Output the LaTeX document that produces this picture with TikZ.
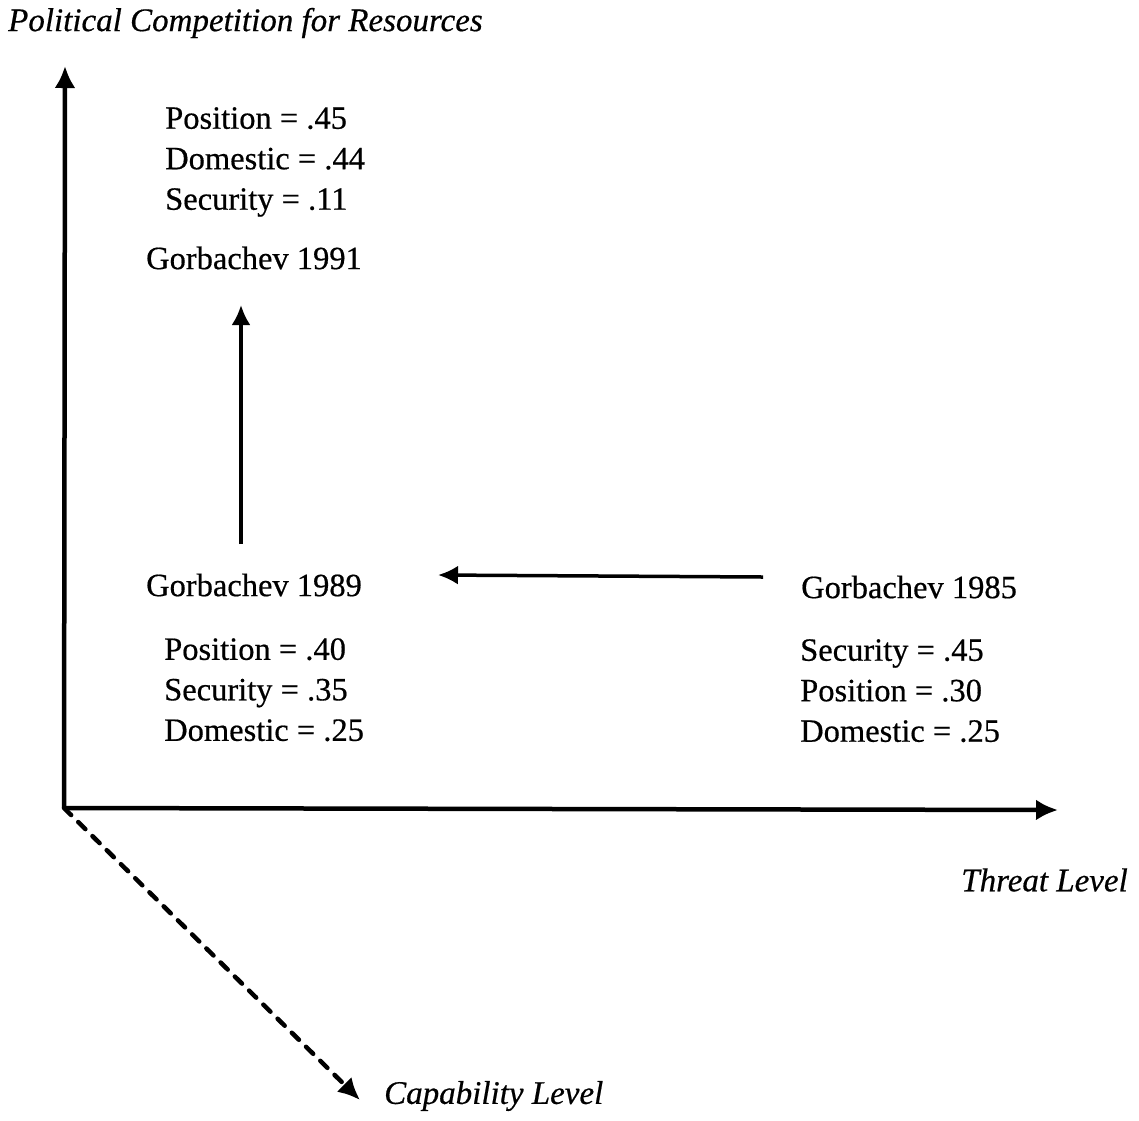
\documentclass[tikz,border=0pt]{standalone}
\usepackage{fontspec}
\setmainfont{Liberation Serif}[FakeBold=0.5]
\usetikzlibrary{arrows.meta}
\begin{document}
\begin{tikzpicture}[x=1pt,y=-1pt,
  lbl/.style={inner sep=0pt, font=\fontsize{32.5}{41}\selectfont},
  ilbl/.style={inner sep=0pt, font=\fontsize{33}{40}\selectfont\itshape},
  blk/.style={inner sep=0pt, align=left, font=\fontsize{32.5}{40.5}\selectfont},
  axis/.style={line width=4.5pt, -{Latex[length=22pt,width=21pt]}},
  move/.style={line width=3.5pt, -{Latex[length=20pt,width=19pt]}},
  zaxis/.style={line width=4.5pt, dash pattern=on 10pt off 10pt, line cap=round, -{Latex[length=22pt,width=21pt]}}]
\useasboundingbox (0,0) rectangle (1139,1120);
% axes
\coordinate (origin) at (64,808);
\coordinate (ytip) at (65,66);
\coordinate (xtip) at (1058,810);
\coordinate (ztip) at (360,1100);
\draw[axis] (origin) -- (ytip);
\draw[axis] (origin) -- (xtip);
\draw[zaxis] (origin) -- (ztip);
% axis labels
\node[ilbl, anchor=west] (ylab) at (8,23) {Political Competition for Resources};
\node[ilbl, anchor=east] (xlab) at (1128,880) {Threat Level};
\node[ilbl, anchor=west] (zlab) at (384,1096) {Capability Level};
% states
\node[lbl] (g91) at (254,258) {Gorbachev 1991};
\node[blk, anchor=north west] (b91) at (165,107) {Position = .45\\Domestic = .44\\Security = .11};
\node[lbl] (g89) at (254,585) {Gorbachev 1989};
\node[blk, anchor=north west] (b89) at (164,638) {Position = .40\\Security = .35\\Domestic = .25};
\node[lbl, anchor=west] (g85) at (801,587) {Gorbachev 1985};
\node[blk, anchor=north west] (b85) at (800,639) {Security = .45\\Position = .30\\Domestic = .25};
% movements
\coordinate (v0) at (241,544);
\coordinate (v1) at (241,305);
\coordinate (h0) at (763,577);
\coordinate (h1) at (438,575);
\draw[move] (v0) -- (v1);
\draw[move] (h0) -- (h1);
\end{tikzpicture}
\end{document}
